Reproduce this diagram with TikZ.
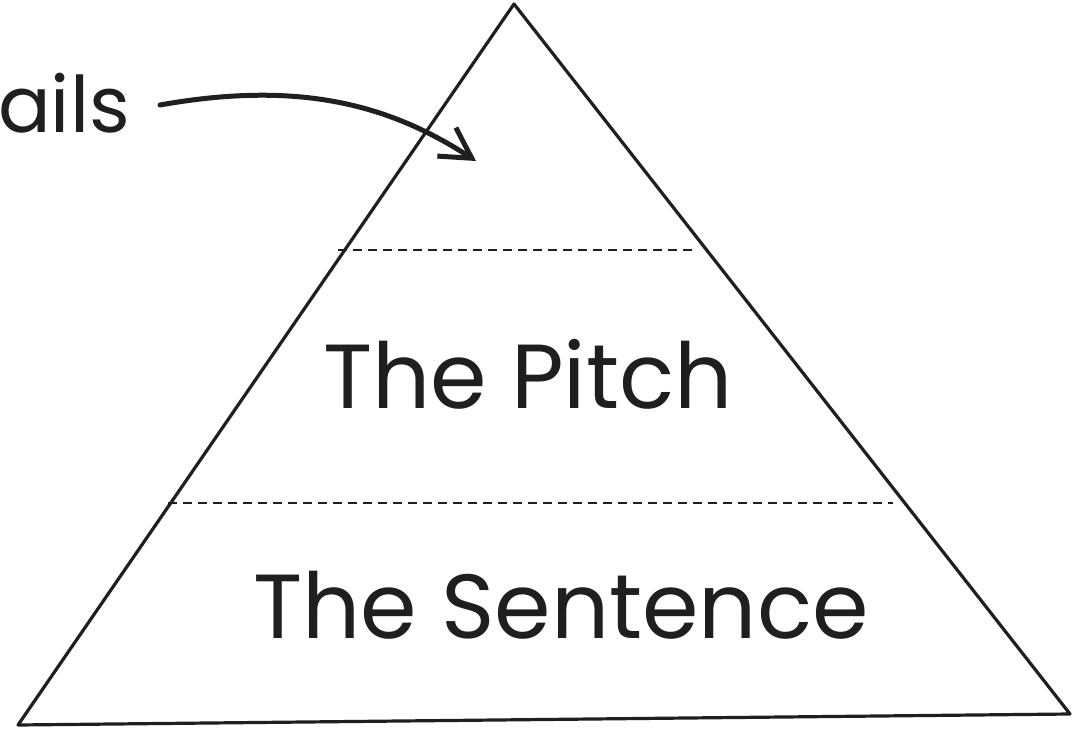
\documentclass[tikz,border=0pt]{standalone}
\usepackage{fontspec}
\setmainfont{Poppins}
\usetikzlibrary{arrows.meta}
\tikzset{
  edge/.style={draw=black!88, line width=3.2pt, line join=round, line cap=round},
  sep/.style={draw=black!88, line width=2pt, dash pattern=on 9pt off 6pt},
  label/.style={inner sep=0pt, text=black!88, font=\fontsize{91}{100}\selectfont},
  pointer/.style={draw=black!88, line width=5pt, line cap=round,
    -{Straight Barb[length=30pt, width=34pt, line width=5pt]}}
}
\begin{document}
\begin{tikzpicture}[x=1pt, y=-1pt]
\useasboundingbox (0,0) rectangle (1084,730);
\fill[white] (0,0) rectangle (1084,730);
\coordinate (apex) at (514,4);
\coordinate (bl) at (18,725);
\coordinate (br) at (1070,714);
\draw[edge] (apex) -- (bl) -- (br) -- cycle;
\coordinate (d1a) at (338,250);
\coordinate (d1b) at (697,250);
\coordinate (d2a) at (168,503);
\coordinate (d2b) at (893,503);
\draw[sep] (d1a) -- (d1b);
\draw[sep] (d2a) -- (d2b);
\node[label, anchor=base] (pitch) at (528,408) {The Pitch};
\node[label, anchor=base] (sentence) at (561,638) {The Sentence};
\node[label, anchor=base west, font=\fontsize{78}{90}\selectfont] (details) at (-2,133) {ails};
\coordinate (start) at (160,105);
\coordinate (tip) at (476,161);
\draw[pointer] (start) .. controls (300,80) and (390,105) .. (tip);
\end{tikzpicture}
\end{document}
